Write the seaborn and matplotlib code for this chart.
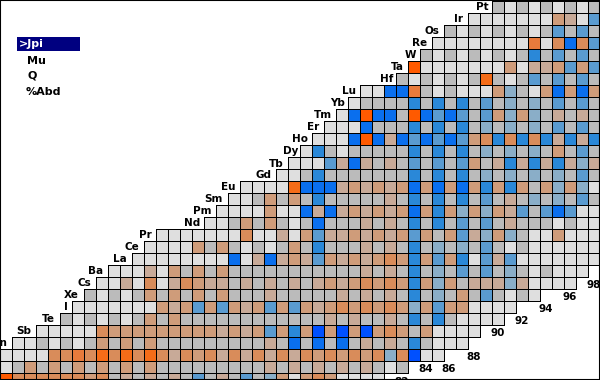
import numpy as np
import matplotlib
matplotlib.use("Agg")
import matplotlib.pyplot as plt
from matplotlib.colors import ListedColormap
from matplotlib.patches import Rectangle
import seaborn as sns

# one letter per nuclide, colour class of the Jpi value
row_start = [41, 39, 37, 36, 35, 34, 33, 30, 29, 28, 27, 26, 25, 24, 23, 20,
             19, 18, 17, 13, 12, 11, 9, 8, 7, 6, 5, 3, 1, 0, 0, 0]
row_cells = [
    "GLGLGLGLG",
    "LLLLLLLSTLM",
    "GLGLGLGLGMGMG",
    "LLLLLLLLELOVOM",
    "GLGLGLGLGBGMGMG",
    "PLLLLLLLSLTTSMSM",
    "GLGLGLGRGLGMGMGMG",
    "LLVVEGLGLLLSAGLSVSVS",
    "LGGGGBGBGBGMGAGAGMGMG",
    "LVPVVGPVMVMGMSASAGTGTG",
    "LLLVGGGBGBGBGAGAGAGMGMG",
    "LLLVPVTVMVMVMSOBOBOBTBTB",
    "LBGLGGGGGBGBGBGAGAGAGSGMG",
    "LLLMTVTGTGMGMGMSGTBTBTBTAT",
    "LLGBGGGGGGGBGBGBGAGAGAGAGMG",
    "LLLLRVVVTSTSTSVSVSVSBSBSGSASAL",
    "LLGSGSGBGGGGGTGBGBGBGMGTGAGAGMG",
    "LLLLSLLVTVTSTSTSVSBSASASTMGMVMLL",
    "LLGSGSGLGVGGGTGTGBGBGMGMGTGGGLGLL",
    "LLLLLLLOLLTLSMTTSTSTSMSGSMTASAGLLSLLL",
    "LLLLSGSGLGLGSGBGGGTGTGBGAGAGMGLGLLLLLL",
    "LLLLLLLLVLTVTSTMSTSTSOSBSMSBLMTMLLLLLLL",
    "LLLTLSGSGSGGGGGGGGGGGTGTGBGAGMGMGAGLGLLL",
    "LLTLOLTOSTTGTGTGTGTSTSOSOSBSASGTTTATLLLL",
    "GLGLGSGSGSGSGGGTGGGGGTGTGTGBGAGSGMGLGL",
    "LLLLLLLSTSMSMSTSMSMSTSOSOSOSASMSSLLLL",
    "GLGLGLGSGSGGGGGGGGGGGGTGTGGTGBGBGLLLL",
    "LLLLLOSSSSSSSSSTSTSMSBSDSDSDSOSGSLLLL",
    "LLGLGLGSGSGSGGGGGGGGGTGVGVGVGTGTGBGLLL",
    "LLLLOOEOROROROTOSOTOTOTOTOSOSOSOAODLL",
    "LGSGSGSGSGSGSGGGGGGGGGTGTGTGTGTGLG",
    "POOOOOOSOGTGTGTGMGTGMGASLSOSLLLL",
]

class_order = list("LGTSOERPAMBVD")
class_colors = ["#dfdfdf", "#bbbbbb", "#c8aa98", "#cf9c7a", "#d98c5a", "#e87b3c",
                "#f56c18", "#ff5a00", "#8aaec8", "#5a9bd0", "#2a88d8", "#0a6fee", "#0050ff"]

element_names = ["Pt", "Ir", "Os", "Re", "W", "Ta", "Hf", "Lu", "Yb", "Tm", "Er", "Ho", "Dy", "Tb", "Gd",
                 "Eu", "Sm", "Pm", "Nd", "Pr", "Ce", "La", "Ba", "Cs", "Xe", "I", "Te", "Sb", "Sn"]
element_right = [489, 463, 439, 427, 416, 404, 393, 356, 345, 332, 319, 308, 298, 284, 272,
                 236, 223, 212, 200, 152, 139, 127, 103, 91, 79, 68, 55, 31, 7]

neutron_labels = ["82", "84", "86", "88", "90", "92", "94", "96", "98"]
neutron_x = [402, 426, 449, 474, 498, 522, 546, 570, 594]
neutron_y = [382, 369, 369, 357, 333, 321, 309, 297, 285]

menu_items = [">Jpi", "Mu", "Q", "%Abd"]
menu_x = [19, 27, 27, 26]
menu_y = [44, 61, 76, 92]

n_cols = 50
codes = np.full((len(row_cells), n_cols), -1.0)
for r, (start, cells) in enumerate(zip(row_start, row_cells)):
    for c, letter in enumerate(cells):
        codes[r, start + c] = class_order.index(letter)

sns.set_theme(style="white")
plt.rcParams["font.family"] = ["DejaVu Sans"]

fig = plt.figure(figsize=(6, 3.8), dpi=100)
ax = fig.add_axes([0, 0, 1, 1])
sns.heatmap(codes, mask=codes < 0, cmap=ListedColormap(class_colors), vmin=-0.5,
            vmax=len(class_colors) - 0.5, cbar=False, xticklabels=False, yticklabels=False, ax=ax)

# cell outlines go on top, only where a row has cells
line_kw = dict(colors="black", linewidth=0.72, zorder=3, antialiased=False, snap=True)
for r, (start, cells) in enumerate(zip(row_start, row_cells)):
    end = start + len(cells)
    ax.hlines([r, r + 1], start, end, **line_kw)
    ax.vlines(np.arange(start, end + 1), r, r + 1, **line_kw)

ax.set_xlim(0, 50)
ax.set_ylim(379 / 12, -1 / 12)
ax.set_xlabel("")
ax.set_ylabel("")
for s in ax.spines.values():
    s.set_visible(True)
    s.set_color("black")
    s.set_linewidth(1.5)


def label(x, y, s, **kw):
    fig.text(x / 600, 1 - y / 380, s, va="center", fontweight="bold", fontsize=7.5, color="black", **kw)


for i, name in enumerate(element_names):
    label(element_right[i], 7.5 + 12 * i, name, ha="right")
for s, x, y in zip(neutron_labels, neutron_x, neutron_y):
    label(x, y, s, ha="center")

fig.add_artist(Rectangle((17 / 600, 1 - 51 / 380), 63 / 600, 14 / 380, transform=fig.transFigure,
                         facecolor="#000080", edgecolor="none"))
for i, item in enumerate(menu_items):
    fig.text(menu_x[i] / 600, 1 - menu_y[i] / 380, item, va="center", fontweight="bold", fontsize=8,
             color="white" if i == 0 else "black", zorder=5)

fig.savefig("out.png", dpi=100)
